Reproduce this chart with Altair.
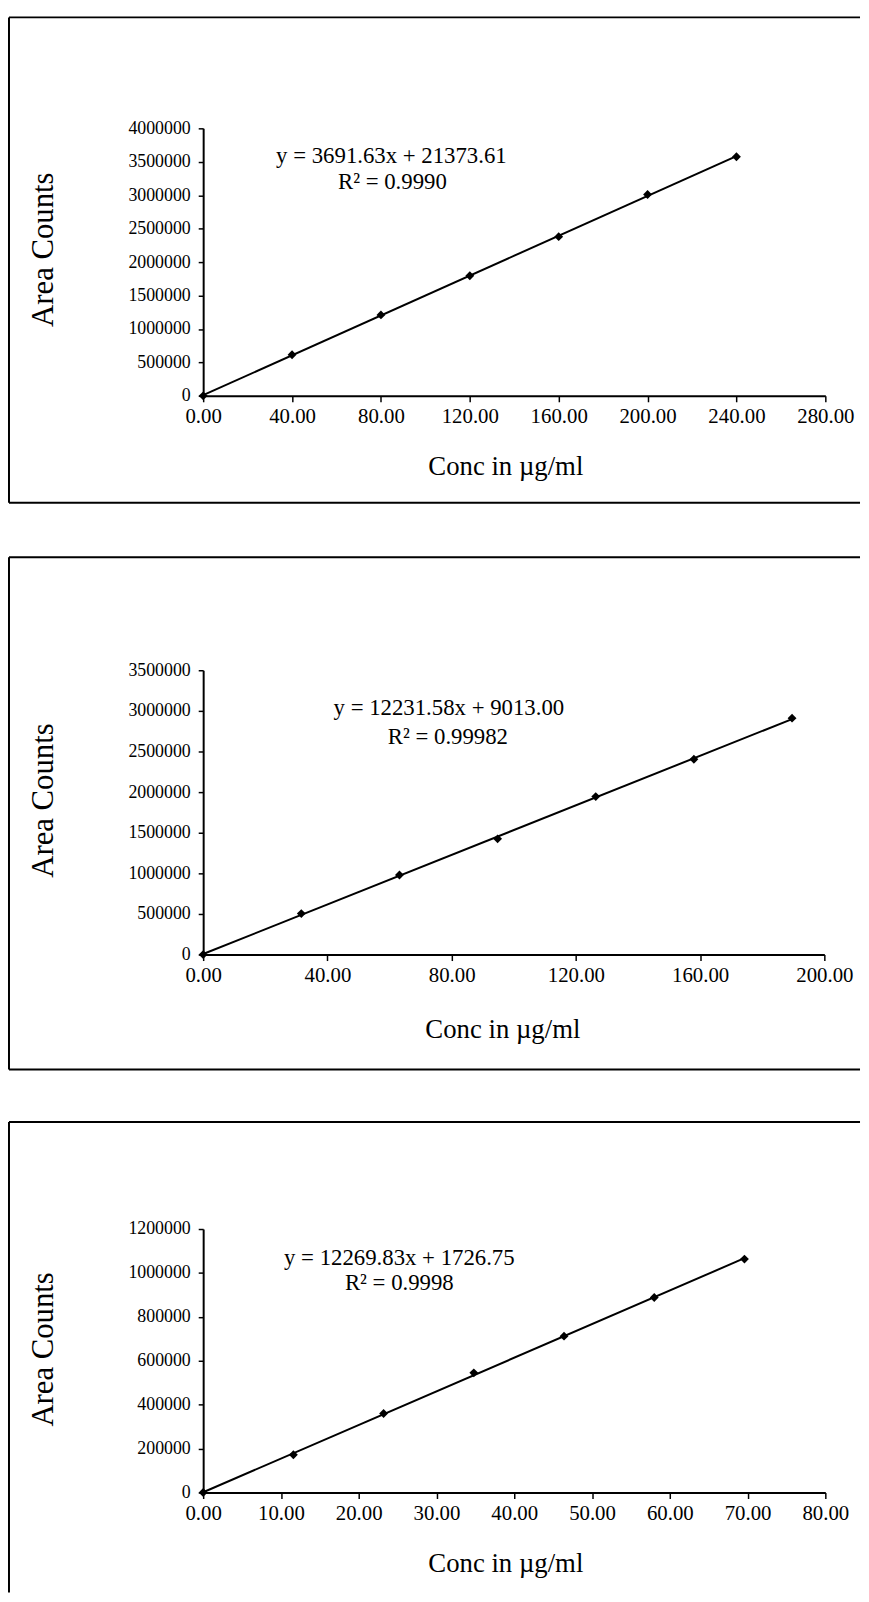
import altair as alt
import pandas as pd

FONT = "Liberation Serif"
X_TITLE = "Conc in µg/ml"
Y_TITLE = "Area Counts"

# ---------------- data ----------------
p1_conc = [0, 40, 80, 120, 160, 200, 240]
p1_area = [0, 615000, 1210000, 1795000, 2380000, 3010000, 3575000]
p1_xticks = [0, 40, 80, 120, 160, 200, 240, 280]
p1_yticks = [0, 500000, 1000000, 1500000, 2000000, 2500000, 3000000, 3500000, 4000000]
p1_eq = ["y = 3691.63x + 21373.61", "R² = 0.9990"]

p2_conc = [0, 31.6, 63.2, 94.8, 126.4, 158.0, 189.6]
p2_area = [0, 505000, 980000, 1425000, 1945000, 2405000, 2910000]
p2_xticks = [0, 40, 80, 120, 160, 200]
p2_yticks = [0, 500000, 1000000, 1500000, 2000000, 2500000, 3000000, 3500000]
p2_eq = ["y = 12231.58x + 9013.00", "R² = 0.99982"]

p3_conc = [0, 11.6, 23.2, 34.8, 46.4, 58.0, 69.6]
p3_area = [0, 172000, 360000, 545000, 712000, 888000, 1063000]
p3_xticks = [0, 10, 20, 30, 40, 50, 60, 70, 80]
p3_yticks = [0, 200000, 400000, 600000, 800000, 1000000, 1200000]
p3_eq = ["y = 12269.83x + 1726.75", "R² = 0.9998"]

# ---------------- layout (pixels, relative to each plot area) ----------------
L1 = dict(w=628, h=270, eq=(190, 28), r2=(191, 54), xt=(305, 71), yt=(-161, 122),
          bl=-196, br=663, bt=-112, bb=378, bottom=True)
L2 = dict(w=627, h=287, eq=(248, 38), r2=(247, 67), xt=(302, 76), yt=(-161, 131),
          bl=-196, br=663, bt=-114, bb=403, bottom=True)
L3 = dict(w=628, h=266, eq=(198, 29), r2=(198, 55), xt=(305, 72), yt=(-161, 121),
          bl=-196, br=663, bt=-108, bb=367, bottom=False)


def make_panel(conc, area, xticks, yticks, eq, L):
    df = pd.DataFrame({"conc": conc, "area": area})
    xscale = alt.Scale(domain=[xticks[0], xticks[-1]], nice=False)
    yscale = alt.Scale(domain=[yticks[0], yticks[-1]], nice=False)
    xaxis = alt.Axis(
        values=xticks, format=".2f", title=X_TITLE, grid=False,
        tickSize=6, tickWidth=1.5, tickColor="black",
        domainColor="black", domainWidth=2,
        labelColor="black", labelFont=FONT, labelFontSize=21, labelPadding=4,
        labelFlush=False, labelOverlap=False,
        titleFont=FONT, titleFontSize=27, titleFontWeight="normal", titleColor="black",
        titleX=L["xt"][0], titleY=L["xt"][1], titleBaseline="middle", titleAlign="center",
    )
    yaxis = alt.Axis(
        values=yticks, format="d", title=Y_TITLE, grid=False,
        tickSize=5, tickWidth=1.5, tickColor="black",
        domainColor="black", domainWidth=2,
        labelColor="black", labelFont=FONT, labelFontSize=18, labelPadding=8,
        labelFlush=False, labelOverlap=False,
        titleFont=FONT, titleFontSize=31, titleFontWeight="normal", titleColor="black",
        titleX=L["yt"][0], titleY=L["yt"][1], titleAngle=270,
        titleBaseline="middle", titleAlign="center",
    )
    ex = alt.X("conc:Q", scale=xscale, axis=xaxis)
    ey = alt.Y("area:Q", scale=yscale, axis=yaxis)
    base = alt.Chart(df)
    line = base.transform_regression("conc", "area").mark_line(
        color="black", strokeWidth=2).encode(x=ex, y=ey)
    pts = base.mark_point(shape="diamond", filled=True, color="black",
                          size=80, opacity=1).encode(x=ex, y=ey)

    def label(txt, pos):
        return alt.Chart(alt.Data(values=[{"t": txt}])).mark_text(
            font=FONT, fontSize=23, color="black", align="center", baseline="middle"
        ).encode(text="t:N", x=alt.value(pos[0]), y=alt.value(pos[1]))

    frame = alt.Data(values=[{"k": 0}])
    top = alt.Chart(frame).mark_rule(color="black", strokeWidth=2).encode(
        x=alt.value(L["bl"]), x2=alt.value(L["br"]), y=alt.value(L["bt"]))
    left = alt.Chart(frame).mark_rule(color="black", strokeWidth=2).encode(
        x=alt.value(L["bl"]), y=alt.value(L["bt"]), y2=alt.value(L["bb"]))
    layers = [line, pts, label(eq[0], L["eq"]), label(eq[1], L["r2"]), top, left]
    if L["bottom"]:
        bottom = alt.Chart(frame).mark_rule(color="black", strokeWidth=2).encode(
            x=alt.value(L["bl"]), x2=alt.value(L["br"]), y=alt.value(L["bb"]))
        layers.append(bottom)
    return alt.layer(*layers).properties(width=L["w"], height=L["h"])


p1 = make_panel(p1_conc, p1_area, p1_xticks, p1_yticks, p1_eq, L1)
p2 = make_panel(p2_conc, p2_area, p2_xticks, p2_yticks, p2_eq, L2)
p3 = make_panel(p3_conc, p3_area, p3_xticks, p3_yticks, p3_eq, L3)

chart = alt.vconcat(p1, p2, p3, spacing=277, bounds="flush").properties(
    padding={"left": 0, "top": 1, "right": 0, "bottom": 0}
).configure_view(stroke=None)

chart.save("out.html", embed_options={"renderer": "svg", "actions": False})
